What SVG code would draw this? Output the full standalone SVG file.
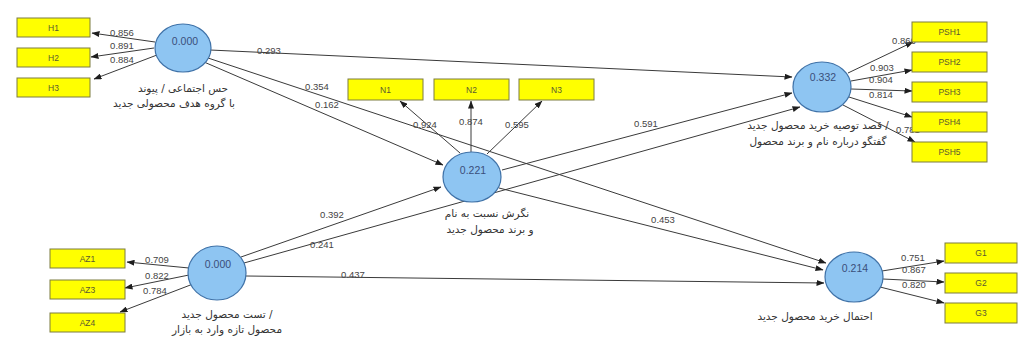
<svg xmlns="http://www.w3.org/2000/svg" width="1019" height="344" viewBox="0 0 1019 344">
<defs>
<marker id="ah" markerWidth="8" markerHeight="6" refX="7.5" refY="3" orient="auto" markerUnits="userSpaceOnUse">
<path d="M0,0 L8,3 L0,6 z" fill="#1e1e1e"/>
</marker>
</defs>
<style>
.lnk{stroke:#3a3a3a;stroke-width:1;fill:none;marker-end:url(#ah)}
.ind rect{fill:#ffff00;stroke:#7c7c40;stroke-width:1}
.ind text{font-family:"Liberation Sans",Arial,sans-serif;font-size:8.5px;fill:#5a5a30;text-anchor:middle}
.lv ellipse{fill:#8ec5f2;stroke:#3f72a8;stroke-width:1.2}
.lv .r2{font-family:"Liberation Sans",Arial,sans-serif;font-size:10.5px;fill:#3a4f7a;text-anchor:middle}
.lv .nm{font-family:"DejaVu Sans","Noto Sans",sans-serif;font-size:10.5px;fill:#333;text-anchor:middle}
.w{font-family:"Liberation Sans",Arial,sans-serif;font-size:9.5px;fill:#444;text-anchor:middle}
</style>
<rect x="0" y="0" width="1019" height="344" fill="#ffffff"/>

<g id="connectors">
<line class="lnk" x1="155" y1="42" x2="92" y2="33"/>
<line class="lnk" x1="154" y1="48" x2="91" y2="57"/>
<line class="lnk" x1="157" y1="55" x2="94" y2="79"/>
<line class="lnk" x1="460" y1="153" x2="400" y2="101"/>
<line class="lnk" x1="471" y1="152" x2="471" y2="101"/>
<line class="lnk" x1="487" y1="154" x2="542" y2="101"/>
<line class="lnk" x1="848" y1="73" x2="913" y2="42"/>
<line class="lnk" x1="851" y1="81" x2="912" y2="70"/>
<line class="lnk" x1="851" y1="89" x2="912" y2="91"/>
<line class="lnk" x1="849" y1="97" x2="912" y2="117"/>
<line class="lnk" x1="843" y1="105" x2="915" y2="142"/>
<line class="lnk" x1="189" y1="268" x2="127" y2="262"/>
<line class="lnk" x1="189" y1="275" x2="125" y2="288"/>
<line class="lnk" x1="193" y1="284" x2="120" y2="312"/>
<line class="lnk" x1="882" y1="271" x2="944" y2="261"/>
<line class="lnk" x1="883" y1="279" x2="944" y2="282"/>
<line class="lnk" x1="880" y1="287" x2="944" y2="303"/>
<line class="lnk" x1="210" y1="50" x2="792" y2="77"/>
<line class="lnk" x1="204" y1="62" x2="443" y2="165"/>
<line class="lnk" x1="208" y1="58" x2="826" y2="263"/>
<line class="lnk" x1="502" y1="170" x2="792" y2="93"/>
<line class="lnk" x1="499" y1="188" x2="823" y2="270"/>
<line class="lnk" x1="241" y1="257" x2="441" y2="187"/>
<line class="lnk" x1="244" y1="263" x2="800" y2="107"/>
<line class="lnk" x1="246" y1="276" x2="824" y2="283"/>
<text class="w" x="122" y="36">0.856</text>
<text class="w" x="122" y="49">0.891</text>
<text class="w" x="122" y="63">0.884</text>
<text class="w" x="269" y="54">0.293</text>
<text class="w" x="317" y="90">0.354</text>
<text class="w" x="327" y="108">0.162</text>
<text class="w" x="425" y="128">0.924</text>
<text class="w" x="471" y="125">0.874</text>
<text class="w" x="517" y="128">0.595</text>
<text class="w" x="646" y="127">0.591</text>
<text class="w" x="904" y="44">0.866</text>
<text class="w" x="882" y="71">0.903</text>
<text class="w" x="881" y="83">0.904</text>
<text class="w" x="881" y="98">0.814</text>
<text class="w" x="908" y="133">0.781</text>
<text class="w" x="332" y="218">0.392</text>
<text class="w" x="322" y="248">0.241</text>
<text class="w" x="353" y="278">0.437</text>
<text class="w" x="663" y="223">0.453</text>
<text class="w" x="157" y="263">0.709</text>
<text class="w" x="157" y="279">0.822</text>
<text class="w" x="155" y="294">0.784</text>
<text class="w" x="913" y="261">0.751</text>
<text class="w" x="914" y="273">0.867</text>
<text class="w" x="914" y="288">0.820</text>
</g>

<g id="H1" class="ind"><rect x="17" y="18" width="73" height="19"/><text x="53.5" y="30.5">H1</text></g>
<g id="H2" class="ind"><rect x="17" y="48" width="73" height="19"/><text x="53.5" y="60.5">H2</text></g>
<g id="H3" class="ind"><rect x="17" y="78" width="73" height="19"/><text x="53.5" y="90.5">H3</text></g>

<g id="N1" class="ind"><rect x="348" y="79" width="75" height="21"/><text x="385.5" y="92.5">N1</text></g>
<g id="N2" class="ind"><rect x="434" y="79" width="75" height="21"/><text x="471.5" y="92.5">N2</text></g>
<g id="N3" class="ind"><rect x="519" y="79" width="75" height="21"/><text x="556.5" y="92.5">N3</text></g>

<g id="PSH1" class="ind"><rect x="912" y="22" width="75" height="20"/><text x="949.5" y="35">PSH1</text></g>
<g id="PSH2" class="ind"><rect x="912" y="52" width="75" height="20"/><text x="949.5" y="65">PSH2</text></g>
<g id="PSH3" class="ind"><rect x="912" y="82" width="75" height="20"/><text x="949.5" y="95">PSH3</text></g>
<g id="PSH4" class="ind"><rect x="912" y="112" width="75" height="20"/><text x="949.5" y="125">PSH4</text></g>
<g id="PSH5" class="ind"><rect x="912" y="142" width="75" height="20"/><text x="949.5" y="155">PSH5</text></g>

<g id="AZ1" class="ind"><rect x="50" y="249" width="75" height="19"/><text x="87.5" y="261.5">AZ1</text></g>
<g id="AZ3" class="ind"><rect x="50" y="280" width="75" height="19"/><text x="87.5" y="292.5">AZ3</text></g>
<g id="AZ4" class="ind"><rect x="50" y="313" width="75" height="19"/><text x="87.5" y="325.5">AZ4</text></g>

<g id="G1" class="ind"><rect x="945" y="243" width="72" height="20"/><text x="981" y="256">G1</text></g>
<g id="G2" class="ind"><rect x="945" y="273" width="72" height="20"/><text x="981" y="286">G2</text></g>
<g id="G3" class="ind"><rect x="945" y="303" width="72" height="20"/><text x="981" y="316">G3</text></g>

<g id="social" class="lv">
<ellipse cx="183" cy="48" rx="28" ry="24"/>
<text class="r2" x="185" y="45">0.000</text>
<text class="nm" x="183" y="92">حس اجتماعی / پیوند</text>
<text class="nm" x="174" y="107">با گروه هدف محصولی جدید</text>
</g>

<g id="attitude" class="lv">
<ellipse cx="472" cy="177" rx="29" ry="25"/>
<text class="r2" x="473" y="174">0.221</text>
<text class="nm" x="487" y="217">نگرش نسبت به نام</text>
<text class="nm" x="490" y="233">و برند محصول جدید</text>
</g>

<g id="intent" class="lv">
<ellipse cx="822" cy="87" rx="29" ry="25"/>
<text class="r2" x="823" y="81">0.332</text>
<text class="nm" x="818" y="129">قصد توصیه خرید محصول جدید /</text>
<text class="nm" x="818" y="145">گفتگو درباره نام و برند محصول</text>
</g>

<g id="trial" class="lv">
<ellipse cx="217" cy="273" rx="29" ry="27"/>
<text class="r2" x="218" y="268">0.000</text>
<text class="nm" x="227" y="318">تست محصول جدید /</text>
<text class="nm" x="227" y="333">محصول تازه وارد به بازار</text>
</g>

<g id="purchase" class="lv">
<ellipse cx="854" cy="277" rx="29" ry="25"/>
<text class="r2" x="855" y="272">0.214</text>
<text class="nm" x="815" y="320">احتمال خرید محصول جدید</text>
</g>
</svg>
